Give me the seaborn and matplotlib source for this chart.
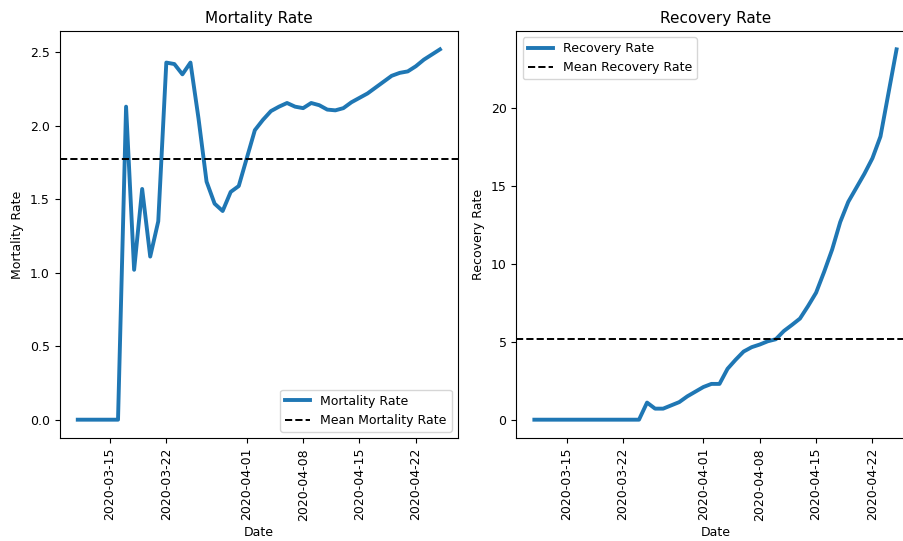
import matplotlib
matplotlib.use("Agg")
import matplotlib.dates as mdates
import matplotlib.pyplot as plt
import pandas as pd
import seaborn as sns

dates = pd.date_range("2020-03-11", "2020-04-25", freq="D")

mortality_rate = [
    0, 0, 0, 0, 0, 0,
    2.13, 1.02, 1.57, 1.11, 1.35, 2.43, 2.42, 2.35, 2.43, 2.05,
    1.62, 1.47, 1.42, 1.55, 1.59, 1.78, 1.97, 2.04, 2.10, 2.13,
    2.155, 2.13, 2.12, 2.155, 2.14, 2.11, 2.105, 2.12, 2.16, 2.19,
    2.22, 2.26, 2.30, 2.34, 2.36, 2.37, 2.405, 2.45, 2.485, 2.52,
]

recovery_rate = [
    0, 0, 0, 0, 0, 0, 0, 0, 0, 0, 0, 0, 0, 0,
    1.1, 0.71, 0.71, 0.92, 1.13, 1.5, 1.8, 2.1, 2.3, 2.3,
    3.27, 3.85, 4.38, 4.66, 4.83, 5.04, 5.17, 5.7, 6.09, 6.5,
    7.3, 8.16, 9.5, 10.94, 12.7, 14.0, 14.9, 15.8, 16.8, 18.2,
    21.0, 23.8,
]

df = pd.DataFrame({
    "Date": dates,
    "Mortality Rate": mortality_rate,
    "Recovery Rate": recovery_rate,
})

plt.rcParams["font.size"] = 9
plt.rcParams["axes.titlesize"] = 11

fig, axes = plt.subplots(1, 2, figsize=(9.04, 5.41), dpi=100)
fig.subplots_adjust(left=0.066, right=1.0118, bottom=0.19, top=0.943, wspace=0.146)

panels = [
    ("Mortality Rate", "Mean Mortality Rate", "lower right"),
    ("Recovery Rate", "Mean Recovery Rate", "upper left"),
]

for ax, (col, mean_label, loc) in zip(axes, panels):
    sns.lineplot(data=df, x="Date", y=col, ax=ax, color="#1f77b4",
                 linewidth=2.8, label=col)
    ax.axhline(df[col].mean(), color="black", linestyle="--",
               linewidth=1.4, label=mean_label)
    ax.set_title(col)
    ax.xaxis.set_major_locator(mdates.DayLocator(bymonthday=[1, 8, 15, 22]))
    ax.xaxis.set_major_formatter(mdates.DateFormatter("%Y-%m-%d"))
    ax.tick_params(axis="x", rotation=90)
    ax.legend(loc=loc, fontsize=9)

fig.savefig("out.png", dpi=100)
